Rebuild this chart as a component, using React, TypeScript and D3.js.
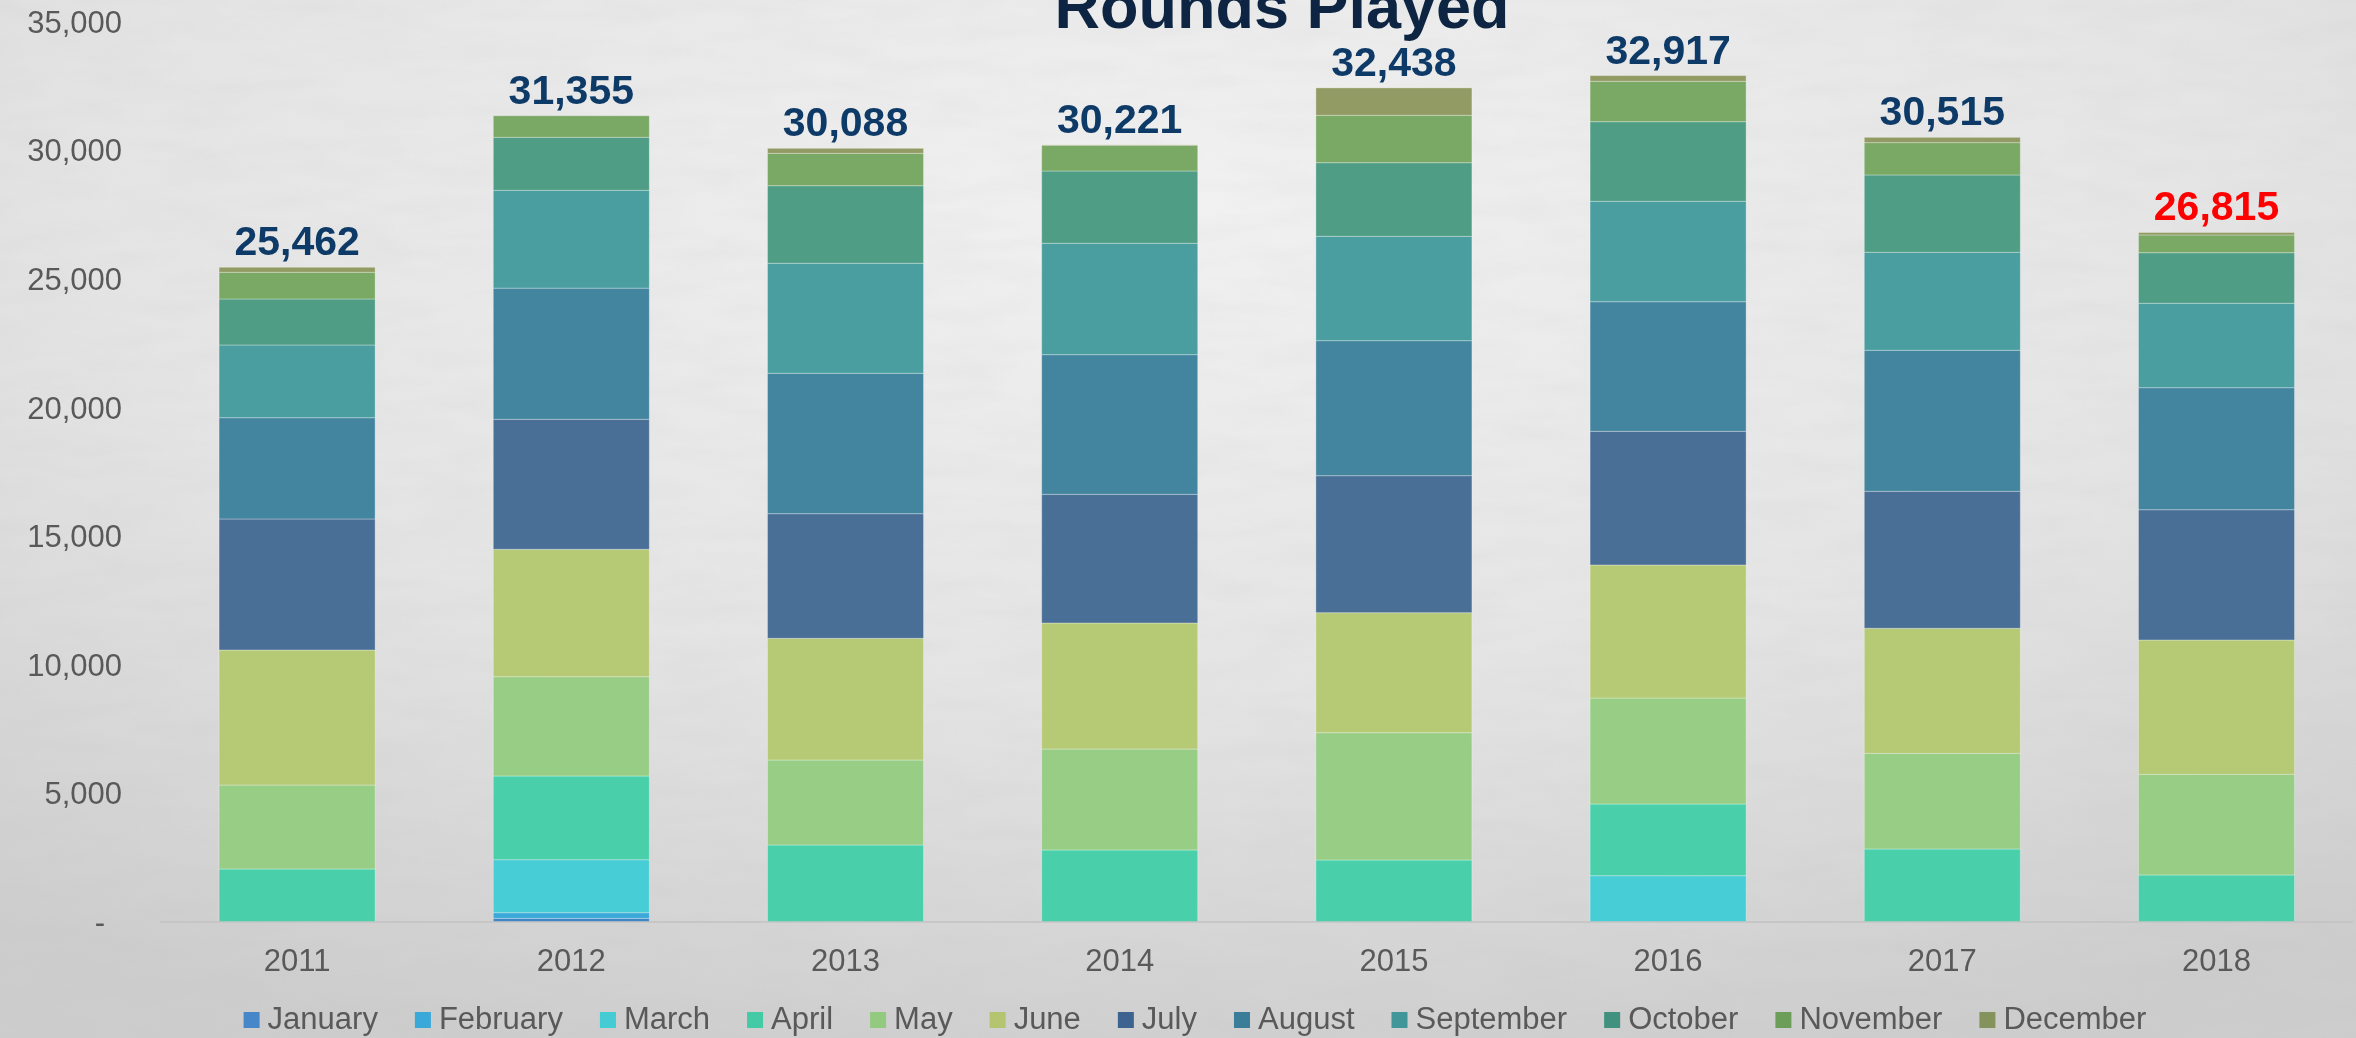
import React, { useMemo } from "react";
import * as d3 from "d3";

const years = ["2011", "2012", "2013", "2014", "2015", "2016", "2017", "2018"];
const months = ["January", "February", "March", "April", "May", "June", "July", "August", "September", "October", "November", "December"];

const january = [0, 144, 0, 0, 0, 0, 0, 0];
const february = [0, 218, 0, 0, 0, 0, 0, 0];
const march = [0, 2061, 0, 0, 0, 1801, 0, 0];
const april = [2061, 3255, 2995, 2800, 2411, 2788, 2839, 1828];
const may = [3267, 3862, 3305, 3928, 4951, 4122, 3722, 3916];
const june = [5250, 4954, 4733, 4900, 4667, 5173, 4861, 5223];
const july = [5095, 5056, 4846, 5005, 5328, 5199, 5328, 5067];
const august = [3939, 5100, 5460, 5430, 5250, 5040, 5484, 4745];
const september = [2828, 3805, 4278, 4332, 4059, 3906, 3811, 3282];
const october = [1788, 2061, 3018, 2811, 2863, 3095, 3006, 1968];
const november = [1039, 839, 1259, 1000, 1843, 1571, 1257, 689];
const december = [195, 0, 194, 15, 1066, 222, 207, 97];

const totals = [25462, 31355, 30088, 30221, 32438, 32917, 30515, 26815];
const yTicks = [0, 5000, 10000, 15000, 20000, 25000, 30000, 35000];
const title = "Rounds Played";

const barColors = ["#3f86c4", "#3aa8d8", "#46cdd5", "#49cfaa", "#98cd86", "#b6c974", "#4a6f96", "#43849f", "#4a9ea0", "#4f9d85", "#7aa865", "#929b63"];
const legendColors = ["#4587c9", "#3aa8d9", "#44cbd4", "#44caa5", "#94ca80", "#b3c571", "#3f6391", "#3a7d99", "#409699", "#40927e", "#6c9e5a", "#84925b"];

const series = [january, february, march, april, may, june, july, august, september, october, november, december];

const W = 2356;
const H = 1038;
const FONT = "'Liberation Sans', Arial, Helvetica, sans-serif";

function measure(text: string, font: string): number {
  const c = document.createElement("canvas");
  const ctx = c.getContext("2d");
  if (!ctx) return text.length * 15;
  ctx.font = font;
  return ctx.measureText(text).width;
}

export default function App() {
  const x = d3.scaleBand<string>().domain(years).range([160, 2353.6]).paddingInner(0.431).paddingOuter(0.2155);
  const y = d3.scaleLinear().domain([0, 35000]).range([922, 22]);
  const fmt = d3.format(",");

  const rows = years.map((yr, i) => {
    const r: any = { year: yr };
    months.forEach((m, k) => (r[m] = series[k][i]));
    return r;
  });
  const stacked = d3.stack<any>().keys(months)(rows);

  const legend = useMemo(() => {
    const font = `31px ${FONT}`;
    const widths = months.map((m) => measure(m, font));
    const sw = 16, gapSw = 8, gap = 37;
    const total = widths.reduce((a, w) => a + sw + gapSw + w, 0) + gap * (months.length - 1);
    let cx = 1195 - total / 2;
    return months.map((m, k) => {
      const item = { m, k, x: cx };
      cx += sw + gapSw + widths[k] + gap;
      return item;
    });
  }, []);

  return (
    <div style={{ position: "fixed", left: 0, top: 0, width: W, height: H, overflow: "hidden" }}>
      <svg width={W} height={H} style={{ display: "block" }} fontFamily={FONT}>
        <defs>
          <radialGradient id="bg" cx="50%" cy="20%" r="85%">
            <stop offset="0%" stopColor="#f1f1f1" />
            <stop offset="55%" stopColor="#e4e4e4" />
            <stop offset="100%" stopColor="#cdcdcd" />
          </radialGradient>
          <filter id="paper" x="0" y="0" width="100%" height="100%">
            <feTurbulence type="fractalNoise" baseFrequency="0.012 0.05" numOctaves="4" seed="7" result="n" />
            <feColorMatrix type="matrix" values="0 0 0 0 0.5  0 0 0 0 0.5  0 0 0 0 0.5  0 0 0 -1.4 0.9" />
          </filter>
        </defs>
        <rect x={0} y={0} width={W} height={H} fill="url(#bg)" />
        <rect x={0} y={0} width={W} height={H} filter="url(#paper)" opacity={0.12} />

        <text x={1282} y={28} textAnchor="middle" fontSize={63} fontWeight="bold" fill="#0d2542">
          {title}
        </text>

        {yTicks.map((t) => (
          <text
            key={t}
            x={t === 0 ? 105 : 122}
            y={y(t)}
            dy="0.35em"
            textAnchor="end"
            fontSize={31}
            fill="#595959"
          >
            {t === 0 ? "-" : fmt(t)}
          </text>
        ))}

        {stacked.map((layer, k) => (
          <g key={months[k]} fill={barColors[k]}>
            {layer.map((d, i) =>
              d[1] - d[0] > 0 ? (
                <rect
                  key={i}
                  x={x(years[i])}
                  y={y(d[1])}
                  width={x.bandwidth()}
                  height={y(d[0]) - y(d[1])}
                  stroke="rgba(255,255,255,0.3)"
                  strokeWidth={1}
                />
              ) : null
            )}
          </g>
        ))}

        <line x1={160} x2={2353} y1={922} y2={922} stroke="#c2c2c2" strokeWidth={1.5} />

        {years.map((yr, i) => (
          <text
            key={yr}
            x={(x(yr) as number) + x.bandwidth() / 2}
            y={y(totals[i]) - 12}
            textAnchor="middle"
            fontSize={41}
            fontWeight="bold"
            fill={yr === "2018" ? "#ff0000" : "#0e3a68"}
          >
            {fmt(totals[i])}
          </text>
        ))}

        {years.map((yr) => (
          <text key={yr} x={(x(yr) as number) + x.bandwidth() / 2} y={971} textAnchor="middle" fontSize={31} fill="#595959">
            {yr}
          </text>
        ))}

        {legend.map((it) => (
          <g key={it.m}>
            <rect x={it.x} y={1012} width={16} height={16} fill={legendColors[it.k]} />
            <text x={it.x + 24} y={1029} fontSize={31} fill="#595959">
              {it.m}
            </text>
          </g>
        ))}
      </svg>
    </div>
  );
}
